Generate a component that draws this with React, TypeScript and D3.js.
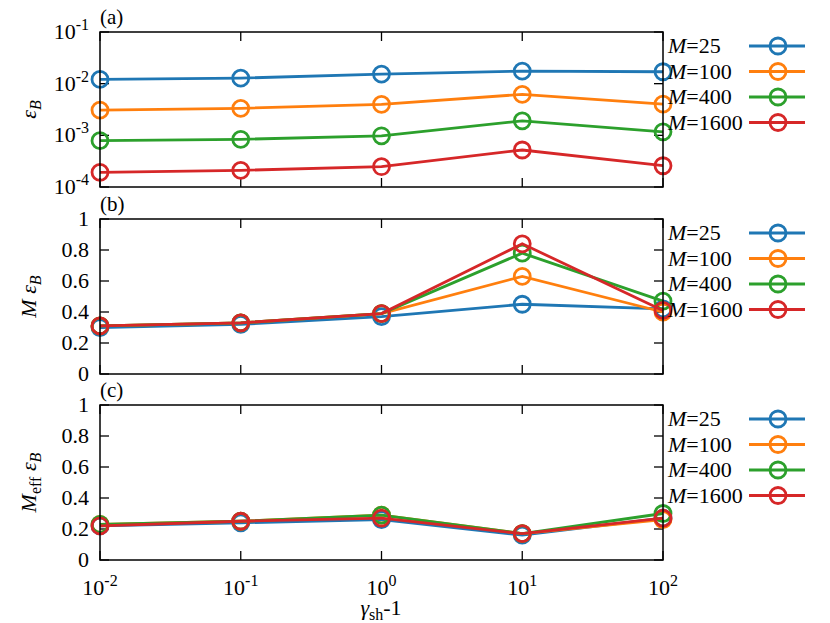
import { useEffect, useRef } from 'react'
import * as d3 from 'd3'

// gamma_sh - 1
const xValues = [0.01, 0.1, 1, 10, 100]
const xTicks = [-2, -1, 0, 1, 2]
const seriesNames = ['25', '100', '400', '1600']
const colors = ['#1f77b4', '#ff7f0e', '#2ca02c', '#d62728']

// (a) eps_B
const epsB25 = [0.0121, 0.0128, 0.0153, 0.0175, 0.0170]
const epsB100 = [0.00308, 0.00333, 0.00398, 0.0062, 0.00403]
const epsB400 = [0.000787, 0.000836, 0.00098, 0.00191, 0.00117]
const epsB1600 = [0.000192, 0.00021, 0.000247, 0.00052, 0.000258]

// (b) M eps_B
const mEps25 = [0.30, 0.32, 0.37, 0.45, 0.42]
const mEps100 = [0.31, 0.33, 0.39, 0.63, 0.40]
const mEps400 = [0.31, 0.33, 0.39, 0.78, 0.47]
const mEps1600 = [0.31, 0.33, 0.39, 0.84, 0.41]

// (c) M_eff eps_B
const mEffEps25 = [0.22, 0.24, 0.26, 0.16, 0.27]
const mEffEps100 = [0.23, 0.25, 0.29, 0.17, 0.26]
const mEffEps400 = [0.23, 0.25, 0.29, 0.17, 0.30]
const mEffEps1600 = [0.22, 0.25, 0.27, 0.17, 0.27]

const logTicks = [-4, -3, -2, -1]
const linTicks = [0, 0.2, 0.4, 0.6, 0.8, 1]

const App = () => {
    const ref = useRef<SVGSVGElement | null>(null)

    useEffect(() => {
        if (!ref.current) return
        document.body.style.margin = '0'
        const width = 830
        const height = 623
        const left = 100
        const right = 663
        const panelH = 155
        const tops = [32, 219, 405]
        const font = "'Liberation Serif', 'Times New Roman', serif"

        const svg = d3.select(ref.current)
        svg.selectAll('*').remove()
        svg.attr('width', width).attr('height', height)

        const txt = (sel: any) => sel.append('text').attr('font-family', font).attr('font-size', 22)

        const x = d3.scaleLog().domain([0.01, 100]).range([left, right])

        const panels = [
            { label: '(a)', log: true, data: [epsB25, epsB100, epsB400, epsB1600] },
            { label: '(b)', log: false, data: [mEps25, mEps100, mEps400, mEps1600] },
            { label: '(c)', log: false, data: [mEffEps25, mEffEps100, mEffEps400, mEffEps1600] },
        ]

        panels.forEach((p, pi) => {
            const top = tops[pi]
            const bottom = top + panelH
            const g = svg.append('g')
            const y = p.log
                ? d3.scaleLog().domain([1e-4, 1e-1]).range([bottom, top])
                : d3.scaleLinear().domain([0, 1]).range([bottom, top])

            // ticks, inward on all sides
            xValues.forEach(v => {
                g.append('line').attr('x1', x(v)).attr('x2', x(v))
                    .attr('y1', bottom).attr('y2', bottom - 9).attr('stroke', '#000').attr('stroke-width', 1.3)
                g.append('line').attr('x1', x(v)).attr('x2', x(v))
                    .attr('y1', top).attr('y2', top + 9).attr('stroke', '#000').attr('stroke-width', 1.3)
            })
            const yt = p.log ? logTicks.map(e => Math.pow(10, e)) : linTicks
            yt.forEach((v, i) => {
                const yy = y(v)
                g.append('line').attr('x1', left).attr('x2', left + 9)
                    .attr('y1', yy).attr('y2', yy).attr('stroke', '#000').attr('stroke-width', 1.3)
                g.append('line').attr('x1', right).attr('x2', right - 9)
                    .attr('y1', yy).attr('y2', yy).attr('stroke', '#000').attr('stroke-width', 1.3)
                const t = txt(g).attr('x', 89).attr('y', yy + 7).attr('text-anchor', 'end')
                if (p.log) {
                    t.append('tspan').text('10')
                    t.append('tspan').attr('dy', -9).attr('font-size', 16).text(String(logTicks[i]))
                } else {
                    t.text(String(v))
                }
            })

            // series
            p.data.forEach((vals, si) => {
                const pts = vals.map((v, i) => [x(xValues[i]), y(v)] as [number, number])
                g.append('path').attr('d', d3.line()(pts)).attr('fill', 'none')
                    .attr('stroke', colors[si]).attr('stroke-width', 2.8)
                g.selectAll(null).data(pts).join('circle')
                    .attr('cx', d => d[0]).attr('cy', d => d[1]).attr('r', 8)
                    .attr('fill', 'none').attr('stroke', colors[si]).attr('stroke-width', 2.8)
            })

            // frame
            g.append('rect').attr('x', left).attr('y', top).attr('width', right - left)
                .attr('height', panelH).attr('fill', 'none').attr('stroke', '#000').attr('stroke-width', 1.5)

            txt(g).attr('x', left).attr('y', top - 8).attr('font-size', 21).text(p.label)

            // legend
            seriesNames.forEach((name, si) => {
                const ly = top + 14 + si * 25.5
                const t = txt(g).attr('x', 668).attr('y', ly + 7)
                t.append('tspan').attr('font-style', 'italic').text('M')
                t.append('tspan').text('=' + name)
                g.append('line').attr('x1', 749).attr('x2', 805).attr('y1', ly).attr('y2', ly)
                    .attr('stroke', colors[si]).attr('stroke-width', 2.8)
                g.append('circle').attr('cx', 778).attr('cy', ly).attr('r', 8)
                    .attr('fill', 'none').attr('stroke', colors[si]).attr('stroke-width', 2.8)
            })

            // y label
            const yl = txt(g)
                .attr('transform', `translate(36,${top + panelH / 2}) rotate(-90)`)
                .attr('text-anchor', 'middle')
            if (pi === 1) yl.append('tspan').attr('font-style', 'italic').text('M ')
            if (pi === 2) {
                yl.append('tspan').attr('font-style', 'italic').text('M')
                yl.append('tspan').attr('font-size', 16).attr('dy', 5).text('eff')
                yl.append('tspan').attr('dy', -5).text(' ')
            }
            yl.append('tspan').attr('font-style', 'italic').text('ε')
            yl.append('tspan').attr('font-style', 'italic').attr('font-size', 16).attr('dy', 5).text('B')
        })

        // x tick labels
        const bottom = tops[2] + panelH
        xTicks.forEach(e => {
            const t = txt(svg).attr('x', x(Math.pow(10, e))).attr('y', bottom + 35).attr('text-anchor', 'middle')
            t.append('tspan').text('10')
            t.append('tspan').attr('dy', -9).attr('font-size', 16).text(String(e))
        })

        // x label
        const xl = txt(svg).attr('x', 381).attr('y', 615).attr('text-anchor', 'middle')
        xl.append('tspan').attr('font-style', 'italic').text('γ')
        xl.append('tspan').attr('font-size', 16).attr('dy', 5).text('sh')
        xl.append('tspan').attr('dy', -5).text('-1')
    }, [])

    return (
        <div>
            <svg ref={ref} style={{ display: 'block' }}></svg>
        </div>
    )
}

export default App
